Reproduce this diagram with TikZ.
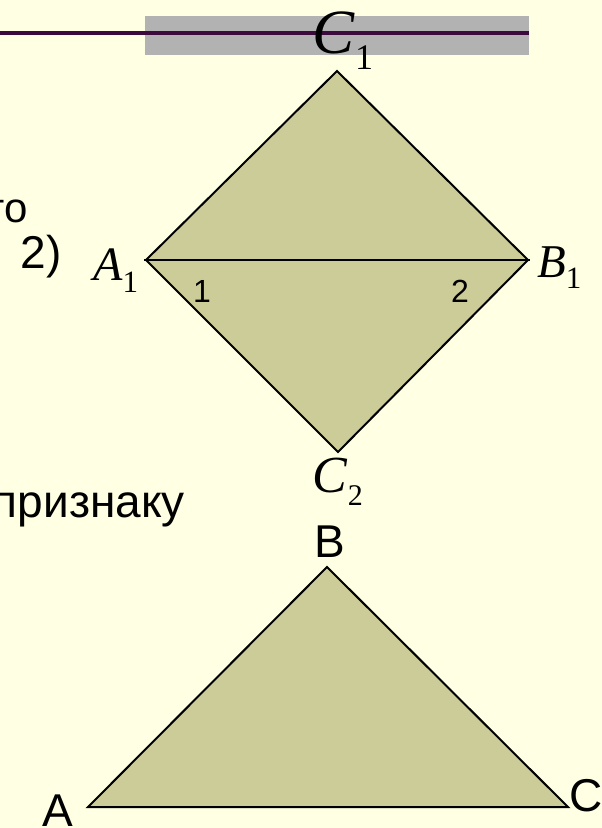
\documentclass[tikz,border=0pt]{standalone}
\usepackage{fontspec}
\setmainfont{Liberation Serif}
\setsansfont{Liberation Sans}
\definecolor{bgyellow}{HTML}{FFFFE3}
\definecolor{olivefill}{HTML}{CCCC99}
\definecolor{bandgray}{HTML}{B2B2B2}
\definecolor{rulepurple}{HTML}{3C0A3C}
\begin{document}
\begin{tikzpicture}[x=1pt,y=-1pt,
  tri/.style={fill=olivefill,draw=black,line width=2pt,line join=miter},
  edge/.style={draw=black,line width=2pt},
  sanslbl/.style={inner sep=0,font=\sffamily\fontsize{46}{46}\selectfont},
  anglbl/.style={inner sep=0,font=\sffamily\fontsize{32}{32}\selectfont},
  txtlbl/.style={inner sep=0,anchor=base east,font=\sffamily\fontsize{46}{46}\selectfont},
  serlbl/.style={inner sep=0,anchor=base west}]
\fill[bgyellow] (0,0) rectangle (602,828);
\useasboundingbox (0,0) rectangle (602,828);
% header band and rule
\fill[bandgray] (145,16) rectangle (529,55);
\coordinate (R0) at (0,32.7);
\coordinate (R1) at (529,32.7);
\draw[rulepurple,line width=3.6pt] (R0) -- (R1);
% left cut-off text
\node[txtlbl,font=\sffamily\fontsize{42}{42}\selectfont] (t1) at (28,222) {то};
\node[txtlbl] (t2) at (62,268) {2)};
\node[txtlbl] (t3) at (185,517) {признаку};
% diamond
\coordinate (A1) at (146,260);
\coordinate (B1) at (528,260);
\coordinate (C1) at (337,71);
\coordinate (C2) at (338,452);
\filldraw[tri] (A1) -- (C1) -- (B1) -- (C2) -- cycle;
\draw[edge] ([xshift=-2pt]A1) -- ([xshift=2pt]B1);
% bottom triangle
\coordinate (A) at (88,807);
\coordinate (B) at (327,567);
\coordinate (C) at (568,807);
\filldraw[tri] (A) -- (B) -- (C) -- cycle;
% serif labels
\node[serlbl] (lC1) at (312,53) {\fontsize{63}{63}\selectfont\itshape C\kern1pt\raisebox{-16pt}{\fontsize{36}{36}\selectfont\upshape 1}};
\node[serlbl] (lA1) at (93,280) {\fontsize{48}{48}\selectfont\itshape A\kern0pt\raisebox{-12pt}{\fontsize{31}{31}\selectfont\upshape 1}};
\node[serlbl] (lB1) at (537,277) {\fontsize{47}{47}\selectfont\itshape B\raisebox{-11pt}{\fontsize{31}{31}\selectfont\upshape 1}};
\node[serlbl] (lC2) at (312,492) {\fontsize{52}{52}\selectfont\itshape C\kern1pt\raisebox{-13pt}{\fontsize{30}{30}\selectfont\upshape 2}};
% angle labels
\node[anglbl,anchor=base west] (n1) at (193,302) {1};
\node[anglbl,anchor=base west] (n2) at (451,302) {2};
% sans vertex labels
\node[sanslbl,anchor=base west] (lB) at (314,557) {B};
\node[sanslbl,anchor=base west] (lA) at (42,826) {A};
\node[sanslbl,anchor=base west] (lC) at (569,811) {C};
\end{tikzpicture}
\end{document}
